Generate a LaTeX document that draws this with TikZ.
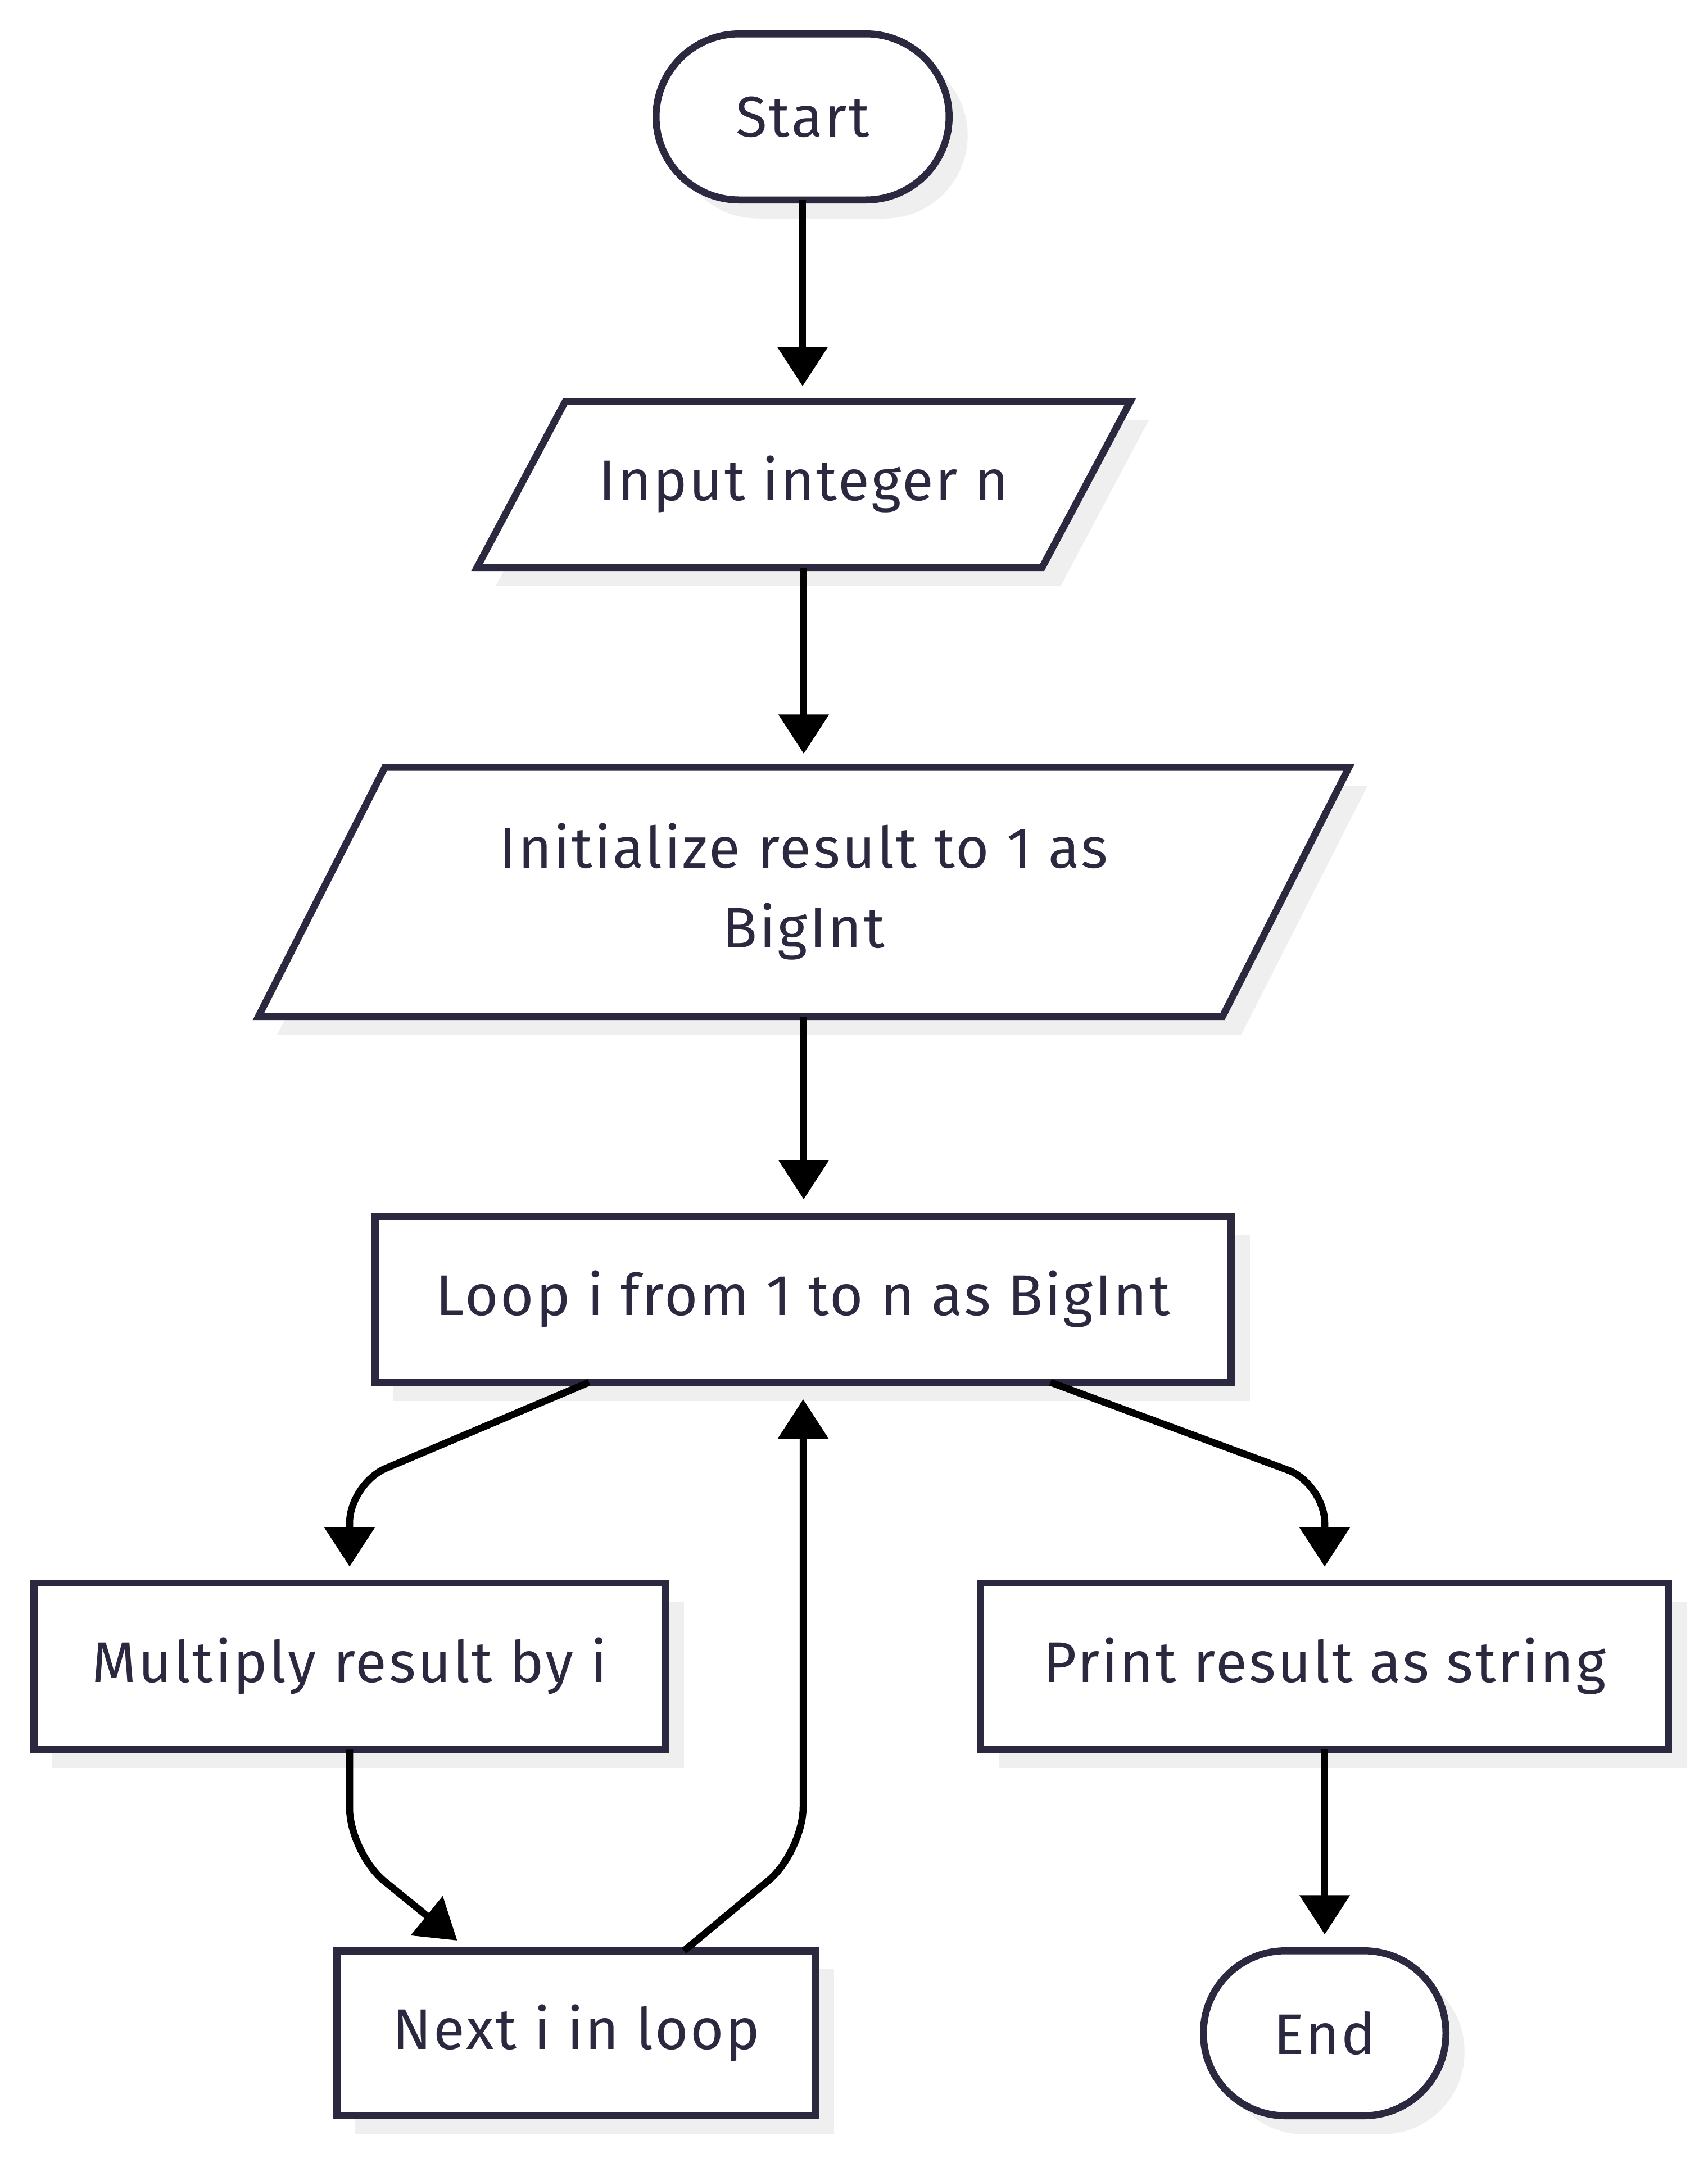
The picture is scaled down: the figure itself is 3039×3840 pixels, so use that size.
\documentclass[tikz,border=0pt]{standalone}
\usepackage{fontspec}
\setmainfont[LetterSpace=3.5]{Fira Sans}
\usetikzlibrary{arrows.meta,shadows,calc}
\definecolor{ink}{HTML}{2A2940}
\definecolor{shadowc}{HTML}{EFEFEF}
\pgfdeclarelayer{bg}
\pgfsetlayers{bg,main}
\begin{document}
\begin{tikzpicture}[x=0.1pt,y=-0.1pt,
  font=\fontsize{10.2pt}{14.2pt}\selectfont,
  box/.style={draw=ink, line width=1.25pt, fill=white, text=ink, outer sep=0pt, inner sep=0pt,
    drop shadow={shadow xshift=3.3pt, shadow yshift=-3.3pt, fill=shadowc, opacity=1}},
  term/.style={box, rounded corners=14.8pt},
  ptext/.style={text=ink, inner sep=0pt, outer sep=0pt, align=center},
  pshape/.style={fill=white, draw=ink, line width=1.25pt},
  arr/.style={-{Triangle[width=8.7pt,length=7pt]}, line width=1.25pt, black}]
\useasboundingbox (0,0) rectangle (3039,3840);

\node[term, minimum width=52.15pt, minimum height=29.55pt] (start) at (1428,208) {Start};
\node[ptext, minimum width=100.55pt, minimum height=29.55pt] (input) at (1430,862) {Input integer n};
\node[ptext, minimum width=171.55pt, minimum height=44.35pt] (init) at (1430,1587) {Initialize result to 1 as\\BigInt};
\node[box, minimum width=152.35pt, minimum height=29.55pt] (loop) at (1429,2312) {Loop i from 1 to n as BigInt};
\node[box, minimum width=112.35pt, minimum height=29.65pt] (mult) at (622,2965) {Multiply result by i};
\node[box, minimum width=122.45pt, minimum height=29.65pt] (print) at (2357,2965) {Print result as string};
\node[box, minimum width=85.15pt, minimum height=29.35pt] (next) at (1025,3618) {Next i in loop};
\node[term, minimum width=43.15pt, minimum height=29.35pt, rounded corners=14.6pt] (end) at (2357,3618) {End};

\begin{pgfonlayer}{bg}
  \fill[shadowc] ($(input.north west)+(7.85pt,0)+(3.3pt,-3.3pt)$) -- ($(input.north east)+(7.85pt,0)+(3.3pt,-3.3pt)$)
    -- ($(input.south east)+(-7.85pt,0)+(3.3pt,-3.3pt)$) -- ($(input.south west)+(-7.85pt,0)+(3.3pt,-3.3pt)$) -- cycle;
  \path[pshape] ($(input.north west)+(7.85pt,0)$) -- ($(input.north east)+(7.85pt,0)$)
    -- ($(input.south east)+(-7.85pt,0)$) -- ($(input.south west)+(-7.85pt,0)$) -- cycle;
  \fill[shadowc] ($(init.north west)+(11.25pt,0)+(3.3pt,-3.3pt)$) -- ($(init.north east)+(11.25pt,0)+(3.3pt,-3.3pt)$)
    -- ($(init.south east)+(-11.25pt,0)+(3.3pt,-3.3pt)$) -- ($(init.south west)+(-11.25pt,0)+(3.3pt,-3.3pt)$) -- cycle;
  \path[pshape] ($(init.north west)+(11.25pt,0)$) -- ($(init.north east)+(11.25pt,0)$)
    -- ($(init.south east)+(-11.25pt,0)$) -- ($(init.south west)+(-11.25pt,0)$) -- cycle;
\end{pgfonlayer}

\draw[arr, shorten >=2.7pt] (start.south) -- (start.south |- input.north);
\draw[arr, shorten >=2.4pt] (input.south) -- (input.south |- init.north);
\draw[arr, shorten >=3pt] (init.south) -- (init.south |- loop.north);
\draw[arr, rounded corners=7pt] ([xshift=-38.1pt]loop.south) -- (mult.north |- 0,2640) -- ([yshift=2.9pt]mult.north);
\draw[arr, rounded corners=7pt] ([xshift=44pt]loop.south) -- (print.north |- 0,2640) -- ([yshift=2.9pt]print.north);
\draw[arr, rounded corners=8pt, shorten >=2.9pt] (mult.south) -- (mult.south |- 0,3297) -- ([xshift=-18.9pt]next.north);
\draw[arr, rounded corners=8pt, shorten >=3pt] ([xshift=19.2pt]next.north) -- (loop.south |- 0,3295) -- (loop.south);
\draw[arr, shorten >=2.9pt] (print.south) -- (end.north);
\end{tikzpicture}
\end{document}
